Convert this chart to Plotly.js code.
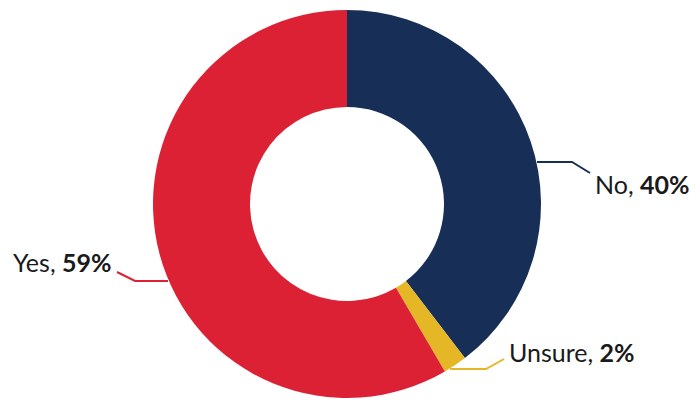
<!DOCTYPE html>
<html>
<head>
<meta charset="utf-8">
<script src="https://cdn.plot.ly/plotly-3.0.1.min.js"></script>
<style>html,body{margin:0;padding:0;background:#fff;}#chart{width:696px;height:401px;}</style>
</head>
<body>
<div id="chart"></div>
<script>
const categories = ["No", "Unsure", "Yes"];
const values = [40, 2, 59];
const labelText = ["40%", "2%", "59%"];
const colors = ["#172f57", "#e5b626", "#db2133"];

const W = 696, H = 401;
const px = x => x / W;
const py = y => 1 - y / H;

// label positions (pixels) and leader line paths
const labelPos = {
  "No": {x: 593, y: 184, anchor: "left", path: [[537,162],[572,162],[590,173]]},
  "Unsure": {x: 507, y: 352, anchor: "left", path: [[450,369],[486,369],[504,359]]},
  "Yes": {x: 113, y: 262, anchor: "right", path: [[117,272],[135,281],[168,281]]}
};

const annotations = categories.map((c, i) => ({
  xref: "paper", yref: "paper",
  x: px(labelPos[c].x), y: py(labelPos[c].y),
  xanchor: labelPos[c].anchor, yanchor: "middle",
  text: c + ", <b>" + labelText[i] + "</b>",
  showarrow: false,
  font: {family: "Lato, sans-serif", size: 25, color: "#1a1a1a"}
}));

const shapes = categories.map((c, i) => ({
  type: "path",
  xref: "paper", yref: "paper",
  path: labelPos[c].path.map((p, k) => (k ? "L" : "M") + px(p[0]) + "," + py(p[1])).join(" "),
  line: {color: colors[i], width: 2}
}));

const trace = {
  type: "pie",
  labels: categories,
  values: values,
  hole: 0.5,
  sort: false,
  direction: "clockwise",
  rotation: 0,
  textinfo: "none",
  hoverinfo: "label+percent",
  marker: {colors: colors, line: {width: 0}},
  domain: {x: [153 / W, 541 / W], y: [py(398), py(10)]}
};

Plotly.newPlot("chart", [trace], {
  width: W, height: H,
  margin: {l: 0, r: 0, t: 0, b: 0},
  showlegend: false,
  paper_bgcolor: "#ffffff",
  annotations: annotations,
  shapes: shapes
}, {displayModeBar: false, staticPlot: true});
</script>
</body>
</html>
